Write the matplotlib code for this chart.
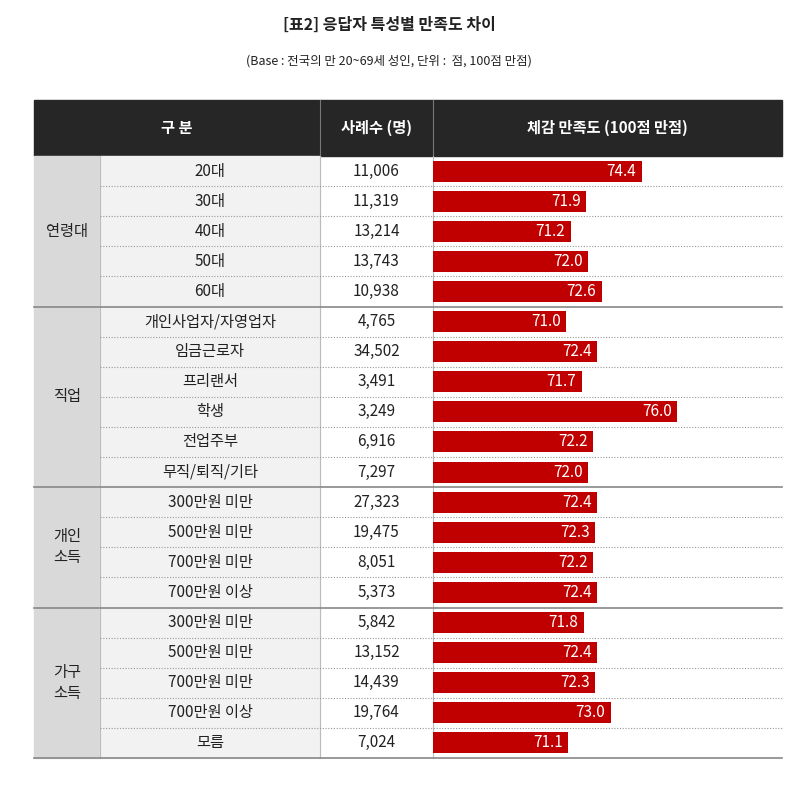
import matplotlib
matplotlib.use("Agg")
import matplotlib.pyplot as plt
from matplotlib.patches import Rectangle
from matplotlib import font_manager as fm

cjk = [f.name for f in fm.fontManager.ttflist if 'CJK' in f.name]
pref = [n for n in ['Noto Sans CJK KR', 'Noto Sans CJK JP', 'Noto Sans CJK SC'] if n in cjk] or cjk[:1]
plt.rcParams['font.family'] = pref + ['DejaVu Sans']

groups = [("연령대", 5), ("직업", 6), ("개인\n소득", 4), ("가구\n소득", 5)]
labels = ["20대", "30대", "40대", "50대", "60대",
          "개인사업자/자영업자", "임금근로자", "프리랜서", "학생", "전업주부", "무직/퇴직/기타",
          "300만원 미만", "500만원 미만", "700만원 미만", "700만원 이상",
          "300만원 미만", "500만원 미만", "700만원 미만", "700만원 이상", "모름"]
counts = ["11,006", "11,319", "13,214", "13,743", "10,938",
          "4,765", "34,502", "3,491", "3,249", "6,916", "7,297",
          "27,323", "19,475", "8,051", "5,373",
          "5,842", "13,152", "14,439", "19,764", "7,024"]
scores = [74.4, 71.9, 71.2, 72.0, 72.6,
          71.0, 72.4, 71.7, 76.0, 72.2, 72.0,
          72.4, 72.3, 72.2, 72.4,
          71.8, 72.4, 72.3, 73.0, 71.1]
headers = ["구 분", "사례수 (명)", "체감 만족도 (100점 만점)"]

W, H = 788, 787
fig = plt.figure(figsize=(W/100, H/100), dpi=100)
ax = fig.add_axes([0, 0, 1, 1])
ax.set_xlim(0, W); ax.set_ylim(H, 0); ax.axis('off')

L, C1, C2, C3, R = 34, 100, 320, 433, 782
top, hb, bot = 100, 156, 758
n = len(labels)
rh = (bot - hb) / n

ax.text(W/2 - 5, 25, "[표2] 응답자 특성별 만족도 차이", ha='center', va='center', fontsize=11.5, fontweight='bold', color='#222')
ax.text(W/2 - 5, 61, "(Base : 전국의 만 20~69세 성인, 단위 :  점, 100점 만점)", ha='center', va='center', fontsize=9, color='#222')

ax.add_patch(Rectangle((L, top), R-L, hb-top, color='#262626'))
for x in (C2, C3):
    ax.plot([x, x], [top, hb], color='#777', lw=0.8)
ax.text((L+C2)/2, (top+hb)/2, headers[0], color='white', ha='center', va='center', fontsize=11, fontweight='bold')
ax.text((C2+C3)/2, (top+hb)/2, headers[1], color='white', ha='center', va='center', fontsize=11, fontweight='bold')
ax.text((C3+R)/2, (top+hb)/2, headers[2], color='white', ha='center', va='center', fontsize=11, fontweight='bold')

ax.add_patch(Rectangle((L, hb), C1-L, bot-hb, color='#d9d9d9'))
ax.add_patch(Rectangle((C1, hb), C2-C1, bot-hb, color='#f2f2f2'))
for x in (C1, C2, C3):
    ax.plot([x, x], [hb, bot], color='#bbb', lw=0.8)

i = 0
for name, k in groups:
    y0 = hb + i*rh
    ax.text((L+C1)/2, y0 + k*rh/2, name, ha='center', va='center', fontsize=11, color='#222', linespacing=1.3)
    for j in range(1, k):
        yy = y0 + j*rh
        ax.plot([C1, R], [yy, yy], color='#999', lw=0.8, ls=(0, (1, 1.5)))
    i += k
    ax.plot([L, R], [hb + i*rh]*2, color='#888', lw=1.2)

for r in range(n):
    yc = hb + (r+0.5)*rh
    ax.text((C1+C2)/2, yc, labels[r], ha='center', va='center', fontsize=11, color='#222')
    ax.text((C2+C3)/2, yc, counts[r], ha='center', va='center', fontsize=11, color='#222')

bax = fig.add_axes([C3/W, 1 - bot/H, (R-C3)/W, (bot-hb)/H])
bax.set_xlim(65, 65 + (R-C3)/22.2)
bax.set_ylim(n - 0.5, -0.5)
bax.axis('off')
bax.patch.set_alpha(0)
ys = list(range(n))
bax.barh(ys, [s - 65 for s in scores], left=65, height=0.7, color='#c00000')
for y, s in zip(ys, scores):
    bax.text(s - 0.25, y, f"{s:.1f}", ha='right', va='center', color='white', fontsize=11)

fig.savefig("out.png", dpi=100)
